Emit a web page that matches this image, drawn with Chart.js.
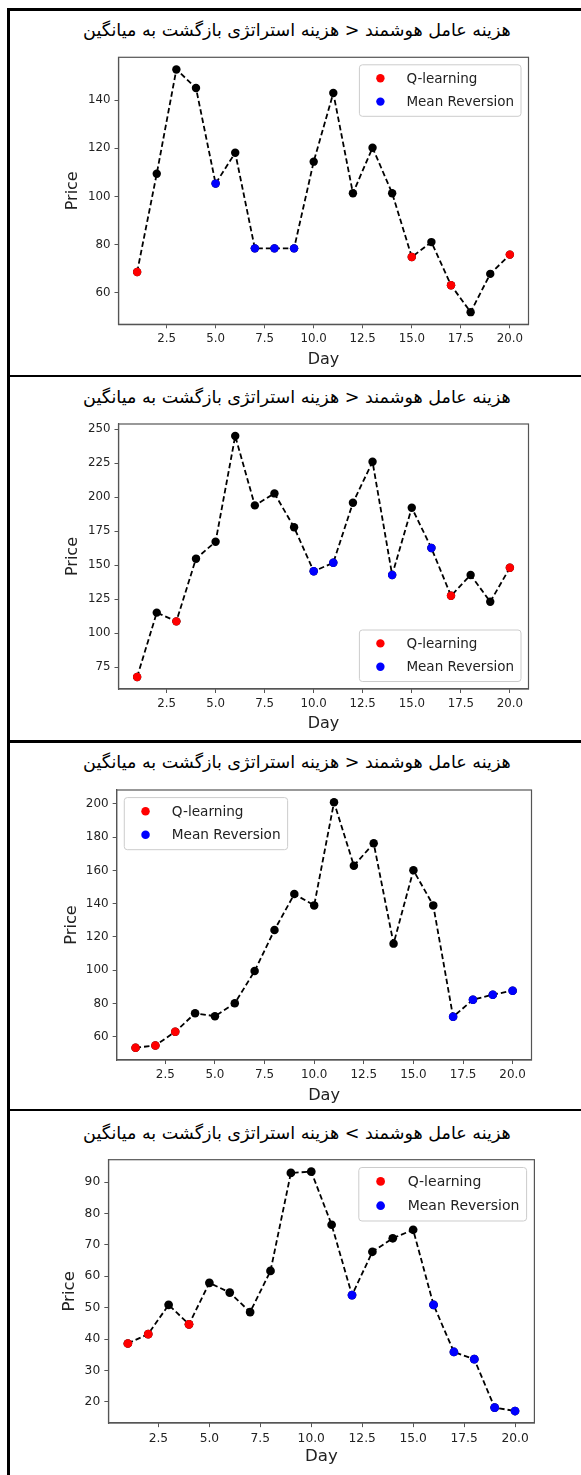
<!DOCTYPE html>
<html lang="fa">
<head>
<meta charset="utf-8">
<script src="https://cdn.jsdelivr.net/npm/chart.js@4.4.1/dist/chart.umd.min.js"></script>
<style>
  body { margin: 0; width: 581px; height: 1475px; background: #fff; position: relative; overflow: hidden; }
  .rule { position: absolute; background: #000; }
  .title { position: absolute; left: 0; width: 594px; height: 24px; line-height: 24px; text-align: center;
           direction: rtl; font-family: 'DejaVu Sans', sans-serif; font-size: 15px; color: #000; white-space: nowrap; }
  .title span { display: inline-block; }
  .box { position: absolute; left: 0; width: 581px; }
</style>
</head>
<body>
<div class="rule" style="left:7px;top:8px;width:3px;height:1467px"></div>
<div class="rule" style="left:7px;top:8px;width:574px;height:3px"></div>
<div class="rule" style="left:7px;top:375px;width:574px;height:2px"></div>
<div class="rule" style="left:7px;top:740px;width:574px;height:3px"></div>
<div class="rule" style="left:7px;top:1109px;width:574px;height:2px"></div>

<script>
// ---- data ----
const days = [1, 2, 3, 4, 5, 6, 7, 8, 9, 10, 11, 12, 13, 14, 15, 16, 17, 18, 19, 20];
const xTicks = [2.5, 5, 7.5, 10, 12.5, 15, 17.5, 20];
const seriesNames = { Q: 'Q-learning', M: 'Mean Reversion' };

const title1 = 'هزینه عامل هوشمند < هزینه استراتژی بازگشت به میانگین';
const title4 = 'هزینه عامل هوشمند > هزینه استراتژی بازگشت به میانگین';

const prices1 = [68.7, 109.5, 152.8, 145.1, 105.4, 118.2, 78.5, 78.5, 78.5, 114.5,
                 143.0, 101.4, 120.3, 101.4, 74.9, 81.1, 63.2, 52.0, 67.9, 75.9];
const signals1 = ['Q', '-', '-', '-', 'M', '-', 'M', 'M', 'M', '-',
                  '-', '-', '-', '-', 'Q', '-', 'Q', '-', '-', 'Q'];
const yTicks1 = [60, 80, 100, 120, 140];

const prices2 = [67.9, 115.2, 108.8, 154.9, 167.4, 245.1, 194.1, 202.9, 178.0, 145.6,
                 151.9, 196.0, 226.2, 142.9, 192.4, 162.7, 127.6, 142.9, 123.2, 148.2];
const signals2 = ['Q', '-', 'Q', '-', '-', '-', '-', '-', '-', 'M',
                  'M', '-', '-', 'M', '-', 'M', 'Q', '-', '-', 'Q'];
const yTicks2 = [75, 100, 125, 150, 175, 200, 225, 250];

const prices3 = [53.4, 54.8, 63.0, 74.1, 72.4, 80.1, 99.5, 124.2, 145.8, 139.0,
                 201.0, 162.9, 176.3, 116.0, 160.1, 139.0, 72.0, 82.3, 85.3, 87.7];
const signals3 = ['Q', 'Q', 'Q', '-', '-', '-', '-', '-', '-', '-',
                  '-', '-', '-', '-', '-', '-', 'M', 'M', 'M', 'M'];
const yTicks3 = [60, 80, 100, 120, 140, 160, 180, 200];

const prices4 = [38.6, 41.6, 50.9, 44.7, 57.9, 54.8, 48.6, 61.7, 92.9, 93.3,
                 76.4, 54.0, 67.8, 72.1, 74.8, 50.9, 35.9, 33.6, 18.2, 17.1];
const signals4 = ['Q', 'Q', '-', 'Q', '-', '-', '-', '-', '-', '-',
                  '-', 'M', '-', '-', '-', 'M', 'M', 'M', 'M', 'M'];
const yTicks4 = [20, 30, 40, 50, 60, 70, 80, 90];

// ---- page layout (pixels) ----
const panels = [
  { title: title1, prices: prices1, signals: signals1, yTicks: yTicks1, legend: 'tr',
    L: 118.5, R: 528.5, T: 57.3, B: 324.3, dayY: 359, priceX: 73, titleY: 29.5 },
  { title: title1, prices: prices2, signals: signals2, yTicks: yTicks2, legend: 'br',
    L: 118.5, R: 528.5, T: 424, B: 689, dayY: 723.3, priceX: 73, titleY: 396.5 },
  { title: title1, prices: prices3, signals: signals3, yTicks: yTicks3, legend: 'tl',
    L: 116.7, R: 531.5, T: 790, B: 1060, dayY: 1095.7, priceX: 71.5, titleY: 762 },
  { title: title4, prices: prices4, signals: signals4, yTicks: yTicks4, legend: 'tr',
    L: 108.5, R: 534.4, T: 1159.7, B: 1423, dayY: 1456.3, priceX: 69.3, titleY: 1133 }
];

const SPINE = '#555';
const TEXT = '#222';
const DOT = 4.2;

// box around the plot area, like matplotlib spines
const framePlugin = {
  id: 'frame',
  afterDatasetsDraw(chart) {
    const { ctx, chartArea: a } = chart;
    ctx.save();
    ctx.strokeStyle = SPINE;
    ctx.lineWidth = 1.2;
    ctx.strokeRect(a.left, a.top, a.right - a.left, a.bottom - a.top);
    ctx.restore();
  }
};

// legend drawn inside the plot area
const boxLegend = {
  id: 'boxLegend',
  afterDraw(chart, args, o) {
    const { ctx, chartArea: a } = chart;
    const fs = o.fs;
    const items = chart.data.datasets.filter(d => d.label);
    ctx.save();
    ctx.font = (13.5 * fs) + "px 'DejaVu Sans'";
    const textW = Math.max(...items.map(d => ctx.measureText(d.label).width));
    const w = 47 * fs + textW + 7 * fs;
    const h = 51.5 * fs;
    const gap = 7.5 * fs;
    const x = o.corner.includes('l') ? a.left + gap : a.right - gap - w;
    const y = o.corner.includes('t') ? a.top + gap : a.bottom - gap - h;
    ctx.beginPath();
    ctx.roundRect(x, y, w, h, 3 * fs);
    ctx.fillStyle = 'rgba(255,255,255,0.8)';
    ctx.fill();
    ctx.strokeStyle = '#cccccc';
    ctx.lineWidth = 1;
    ctx.stroke();
    items.forEach((d, k) => {
      const cy = y + 13.4 * fs + k * 23.4 * fs;
      ctx.beginPath();
      ctx.arc(x + 21 * fs, cy, DOT * fs, 0, Math.PI * 2);
      ctx.fillStyle = d.pointBackgroundColor;
      ctx.fill();
      ctx.fillStyle = TEXT;
      ctx.textBaseline = 'middle';
      ctx.textAlign = 'left';
      ctx.fillText(d.label, x + 47 * fs, cy + 1);
    });
    ctx.restore();
  }
};

function buildPanel(p) {
  const fs = (p.R - p.L) / 410;

  // title as real text, scaled to the reference width
  const t = document.createElement('div');
  t.className = 'title';
  t.style.top = (p.titleY - 12) + 'px';
  const span = document.createElement('span');
  span.textContent = p.title;
  t.appendChild(span);
  document.body.appendChild(t);
  const w0 = span.getBoundingClientRect().width;
  t.style.fontSize = (15 * 428 / w0) + 'px';

  const labelLH = 16 * fs * 1.2;
  const top = Math.floor(p.T - 12);
  const bottom = Math.ceil(p.dayY + labelLH / 2);
  const wrap = document.createElement('div');
  wrap.className = 'box';
  wrap.style.top = top + 'px';
  wrap.style.height = (bottom - top) + 'px';
  const canvas = document.createElement('canvas');
  wrap.appendChild(canvas);
  document.body.appendChild(wrap);

  const padLeft = p.priceX - labelLH / 2;
  const pts = days.map((d, i) => ({ x: d, y: p.prices[i] }));
  const pick = s => days.map((d, i) => p.signals[i] === s ? pts[i] : null).filter(Boolean);

  const yMin = Math.min(...p.prices), yMax = Math.max(...p.prices);
  const yPad = (yMax - yMin) * 0.05;
  const xPad = (days[days.length - 1] - days[0]) * 0.05;

  const tickFont = { family: 'DejaVu Sans', size: 11.8 * fs };
  const titleFont = { family: 'DejaVu Sans', size: 16 * fs, lineHeight: 1.2 };

  new Chart(canvas, {
    type: 'scatter',
    data: {
      datasets: [
        {
          label: '', data: pts, showLine: true, order: 2,
          borderColor: '#000', borderWidth: 1.8, borderDash: [5.5, 3],
          pointRadius: DOT * fs, pointBackgroundColor: '#000', pointBorderWidth: 0
        },
        {
          label: seriesNames.Q, data: pick('Q'), order: 1,
          pointRadius: DOT * fs, pointBackgroundColor: '#ff0000', pointBorderWidth: 0
        },
        {
          label: seriesNames.M, data: pick('M'), order: 1,
          pointRadius: DOT * fs, pointBackgroundColor: '#0000ff', pointBorderWidth: 0
        }
      ]
    },
    options: {
      responsive: true,
      maintainAspectRatio: false,
      animation: false,
      devicePixelRatio: 1,
      events: [],
      layout: { padding: { left: padLeft, right: 581 - p.R, top: p.T - top, bottom: 0 } },
      plugins: {
        legend: { display: false },
        tooltip: { enabled: false },
        boxLegend: { corner: p.legend, fs: fs }
      },
      scales: {
        x: {
          type: 'linear',
          min: days[0] - xPad,
          max: days[days.length - 1] + xPad,
          afterBuildTicks: s => { s.ticks = xTicks.map(v => ({ value: v })); },
          afterFit: s => { s.height = bottom - p.B; },
          grid: { display: true, drawOnChartArea: false, drawTicks: true, tickLength: 4 * fs, color: SPINE },
          border: { display: true, color: SPINE, width: 1.2 },
          ticks: { color: TEXT, font: tickFont, padding: 4 * fs, maxRotation: 0,
                   callback: v => v.toFixed(1) },
          title: { display: true, text: 'Day', color: TEXT, font: titleFont, padding: 0 }
        },
        y: {
          type: 'linear',
          min: yMin - yPad,
          max: yMax + yPad,
          afterBuildTicks: s => { s.ticks = p.yTicks.map(v => ({ value: v })); },
          afterFit: s => { s.width = p.L - padLeft; },
          grid: { display: true, drawOnChartArea: false, drawTicks: true, tickLength: 4 * fs, color: SPINE },
          border: { display: true, color: SPINE, width: 1.2 },
          ticks: { color: TEXT, font: tickFont, padding: 4 * fs, callback: v => String(v) },
          title: { display: true, text: 'Price', color: TEXT, font: titleFont, padding: 0 }
        }
      }
    },
    plugins: [framePlugin, boxLegend]
  });
}

panels.forEach(buildPanel);
</script>
</body>
</html>
